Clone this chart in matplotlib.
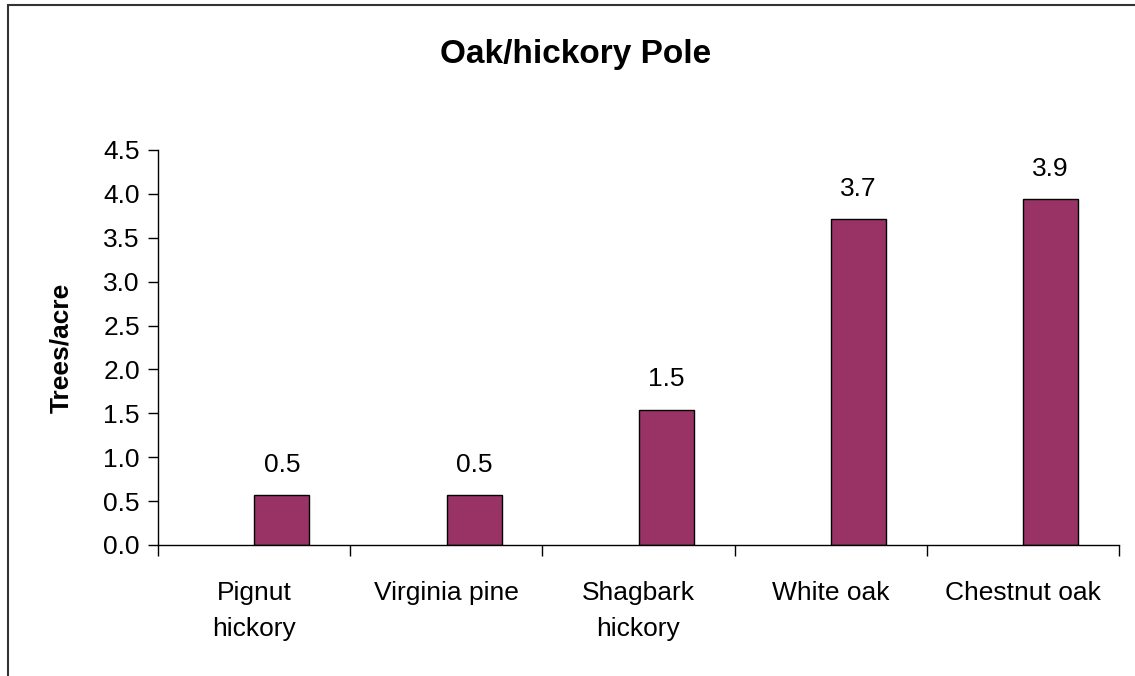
import matplotlib.pyplot as plt
from matplotlib.patches import Rectangle
from matplotlib.ticker import FixedLocator, NullFormatter

species = ["Pignut\nhickory", "Virginia pine", "Shagbark\nhickory", "White oak", "Chestnut oak"]
trees = [0.57, 0.57, 1.54, 3.71, 3.94]
shown = ["0.5", "0.5", "1.5", "3.7", "3.9"]
yticks = [0.0, 0.5, 1.0, 1.5, 2.0, 2.5, 3.0, 3.5, 4.0, 4.5]

plt.rcParams['font.family'] = ['Liberation Sans', 'DejaVu Sans']

fig = plt.figure(figsize=(11.35, 6.76), dpi=100)
ax = fig.add_axes([158/1135, 1 - 545/676, (1119 - 158)/1135, (545 - 150)/676])

# outer frame like the excel chart area
fig.patches.append(Rectangle((8/1135, -0.05), 1.2, 1 - 5/676 + 0.05, transform=fig.transFigure,
                             fill=False, edgecolor='#333333', linewidth=1.5))

x = list(range(len(species)))
xb = [i + 0.145 for i in x]
ax.bar(xb, trees, width=0.286, color='#993366', edgecolor='black', linewidth=1)

for xi, v, s in zip(xb, trees, shown):
    ax.text(xi, v + 0.21, s, ha='center', va='bottom', fontsize=19)

ax.set_xlim(-0.5, len(species) - 0.5)
ax.set_ylim(0, 4.5)
ax.set_yticks(yticks)
ax.set_yticklabels(["%.1f" % t for t in yticks], fontsize=19)
ax.tick_params(axis='y', direction='out', length=7, width=1, pad=6)

ax.set_xticks(x)
ax.set_xticklabels(species, fontsize=19, linespacing=1.6)
ax.tick_params(axis='x', which='major', length=0, pad=26)
ax.xaxis.set_minor_locator(FixedLocator([i - 0.5 for i in range(len(species) + 1)]))
ax.xaxis.set_minor_formatter(NullFormatter())
ax.tick_params(axis='x', which='minor', direction='out', length=8, width=1)

for side in ['top', 'right']:
    ax.spines[side].set_visible(False)
ax.spines['left'].set_linewidth(1)
ax.spines['bottom'].set_linewidth(1)

ax.set_ylabel("Trees/acre", fontsize=19, fontweight='bold', labelpad=22)
fig.text(576/1135, 1 - 55/676, "Oak/hickory Pole", ha='center', va='center',
         fontsize=24, fontweight='bold')

fig.savefig("out.png", dpi=100)
